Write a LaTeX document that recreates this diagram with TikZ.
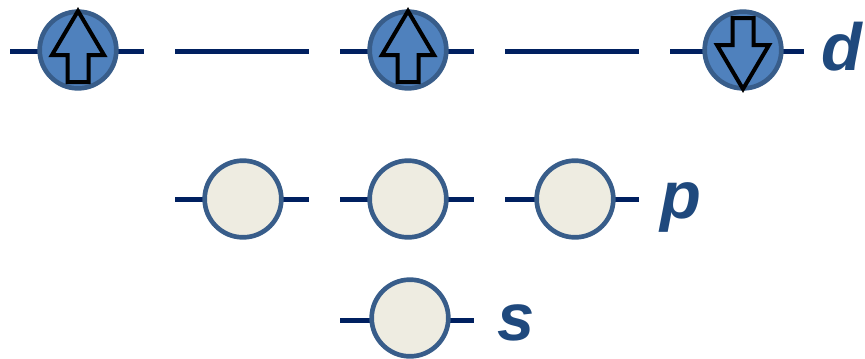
\documentclass[tikz,border=0pt]{standalone}
\usepackage{fontspec}
\setmainfont{Liberation Sans}
\definecolor{lvNavy}{RGB}{0,32,96}
\definecolor{orbBlue}{RGB}{79,129,189}
\definecolor{orbEdge}{RGB}{56,93,138}
\definecolor{orbEmpty}{RGB}{238,236,225}
\definecolor{lblBlue}{RGB}{31,73,125}
\begin{document}
\begin{tikzpicture}[x=0.03cm,y=-0.03cm,
    level/.style={draw=lvNavy,line width=0.15cm},
    filled/.style={circle,draw=orbEdge,fill=orbBlue,line width=0.14cm,minimum size=2.3cm,inner sep=0pt},
    empty/.style={circle,draw=orbEdge,fill=orbEmpty,line width=0.14cm,minimum size=2.3cm,inner sep=0pt},
    orblabel/.style={text=lblBlue,font=\fontsize{57}{60}\selectfont\bfseries\itshape,anchor=base west,inner sep=0pt},
    spinup/.pic={\draw[black,line width=0.12cm,line join=miter]
        (0,-39) -- (26,5) -- (10.5,5) -- (10.5,32) -- (-10.5,32) -- (-10.5,5) -- (-26,5) -- cycle;}]
    \useasboundingbox (0,0) rectangle (865,358);

    % d levels
    \foreach \cx in {77,242,407,572,737}
        \draw[level] (\cx-67,51) -- (\cx+67,51);
    \node[filled] (d1) at (78,50) {};
    \node[filled] (d3) at (408,50) {};
    \node[filled] (d5) at (743,50) {};
    \pic at (d1) {spinup};
    \pic at (d3) {spinup};
    \pic[yscale=-1] at (d5) {spinup};
    \node[orblabel] (dlbl) at (821,70) {d};

    % p levels
    \foreach \cx in {242,407,572}
        \draw[level] (\cx-67,199) -- (\cx+67,199);
    \node[empty] (p1) at (243,199) {};
    \node[empty] (p2) at (408,199) {};
    \node[empty] (p3) at (575,199) {};
    \node[orblabel] (plbl) at (660,218) {p};

    % s level
    \draw[level] (340,320) -- (474,320);
    \node[empty] (s1) at (410,318) {};
    \node[orblabel] (slbl) at (497,340) {s};
\end{tikzpicture}
\end{document}
